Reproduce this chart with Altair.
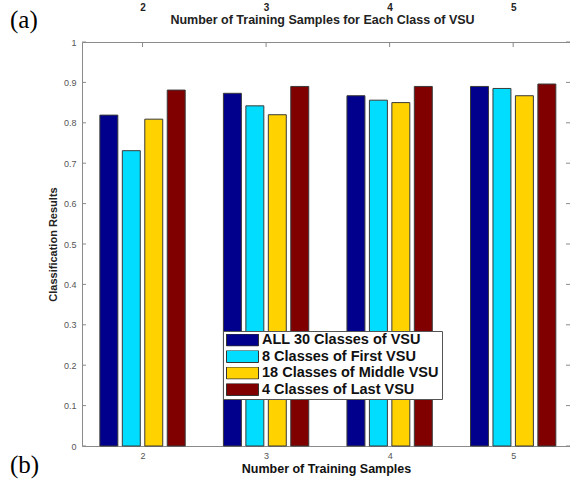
import altair as alt
import pandas as pd

# ---- data ----
samples = [2, 3, 4, 5]
series = ["ALL 30 Classes of VSU", "8 Classes of First VSU",
          "18 Classes of Middle VSU", "4 Classes of Last VSU"]
all30 = [0.819, 0.873, 0.867, 0.890]
first8 = [0.731, 0.842, 0.856, 0.885]
middle18 = [0.809, 0.820, 0.850, 0.867]
last4 = [0.881, 0.890, 0.890, 0.896]
y_ticks = [0, 0.1, 0.2, 0.3, 0.4, 0.5, 0.6, 0.7, 0.8, 0.9, 1.0]
panel_labels = ["(a)", "(b)"]

colors = ["#00008C", "#00DDFF", "#FFD200", "#800000"]

# ---- layout constants ----
W, H = 488, 404
SLOT = 0.727 / 4        # group width split into four slots (x units)
BARW = 0.8 * SLOT       # bar width (x units)
FONT = "Liberation Sans"

rows = []
for si, (name, vals) in enumerate(zip(series, [all30, first8, middle18, last4])):
    for g, v in zip(samples, vals):
        c = g + (si - 1.5) * SLOT
        rows.append({"series": name, "sample": g, "value": v,
                     "x0": c - BARW / 2, "x1": c + BARW / 2})
df = pd.DataFrame(rows)

xscale = alt.Scale(domain=[1.51, 5.46], nice=False, zero=False)
yscale = alt.Scale(domain=[0, 1], nice=False)

bars = alt.Chart(df).mark_bar(stroke="#3a3a3a", strokeWidth=1, opacity=1).encode(
    x=alt.X("x0:Q", scale=xscale,
            axis=alt.Axis(orient="bottom", values=samples, format="d", grid=False,
                          ticks=False, domain=True, domainColor="#8a8a8a",
                          labelPadding=5, labelColor="#555555", labelFontSize=9,
                          labelFont=FONT, title="Number of Training Samples",
                          titleFont=FONT, titleFontSize=12.5, titleFontWeight="bold",
                          titleColor="#111111", titlePadding=2)),
    x2="x1:Q",
    y=alt.Y("value:Q", scale=yscale,
            axis=alt.Axis(values=y_ticks, format=".1~f", grid=False, ticks=False,
                          domain=True, domainColor="#8a8a8a", labelPadding=6,
                          labelColor="#555555", labelFontSize=9, labelFont=FONT,
                          title="Classification Results", titleFont=FONT,
                          titleFontSize=11, titleFontWeight="bold",
                          titleColor="#222222", titlePadding=5)),
    y2=alt.datum(0),
    color=alt.Color("series:N",
                    scale=alt.Scale(domain=series, range=colors),
                    sort=series,
                    legend=alt.Legend(orient="none", legendX=141, legendY=289,
                                      title=None, fillColor="white",
                                      strokeColor="#555555", padding=3,
                                      symbolType="M-1,-0.375H1V0.375H-1Z",
                                      symbolSize=1024, symbolStrokeColor="#333333",
                                      symbolStrokeWidth=1, symbolOpacity=1,
                                      labelFont=FONT, labelFontSize=14.5,
                                      labelFontWeight="bold", labelColor="#111111",
                                      clipHeight=12, rowPadding=1.5, labelOffset=3,
                                      labelLimit=300)),
)

sdf = pd.DataFrame({"sample": samples})
top = alt.Chart(sdf).mark_rule(color="#8a8a8a").encode(
    x=alt.X("sample:Q", scale=xscale,
            axis=alt.Axis(orient="top", values=samples, format="d", grid=False,
                          ticks=False, domain=True, domainColor="#8a8a8a",
                          labelPadding=30, labelColor="#222222", labelFontSize=10,
                          labelFontWeight="bold", labelFont=FONT,
                          title="Number of Training Samples for Each Class of VSU",
                          titleFont=FONT, titleFontSize=12.5, titleFontWeight="bold",
                          titleColor="#222222", titleY=-19, titleX=240,
                          titleBaseline="alphabetic")),
    y=alt.value(0), y2=alt.value(5),
)

ydf = pd.DataFrame({"tick": y_ticks})
right_ticks = alt.Chart(ydf).mark_rule(color="#8a8a8a").encode(
    y=alt.Y("tick:Q", scale=yscale, axis=None),
    x=alt.value(W - 4), x2=alt.value(W),
)
left_ticks = alt.Chart(ydf).mark_rule(color="#8a8a8a").encode(
    y=alt.Y("tick:Q", scale=yscale, axis=None),
    x=alt.value(0), x2=alt.value(4),
)

pa = alt.Chart(pd.DataFrame({"t": [panel_labels[0]]})).mark_text(
    font="Liberation Serif", fontSize=25, align="left", baseline="alphabetic",
    color="black").encode(text="t:N", x=alt.value(-72), y=alt.value(-14))
pb = alt.Chart(pd.DataFrame({"t": [panel_labels[1]]})).mark_text(
    font="Liberation Serif", fontSize=25, align="left", baseline="alphabetic",
    color="black").encode(text="t:N", x=alt.value(-72), y=alt.value(431))

chart = alt.layer(bars, top, right_ticks, left_ticks, pa, pb).resolve_axis(
    x="independent", y="independent"
).properties(
    width=W, height=H,
    padding={"left": 82, "top": 42, "right": 0, "bottom": 34},
    autosize=alt.AutoSizeParams(type="none"),
    background="white",
).configure_view(stroke="transparent")

chart.save("out.html", embed_options={"renderer": "svg", "actions": False})
